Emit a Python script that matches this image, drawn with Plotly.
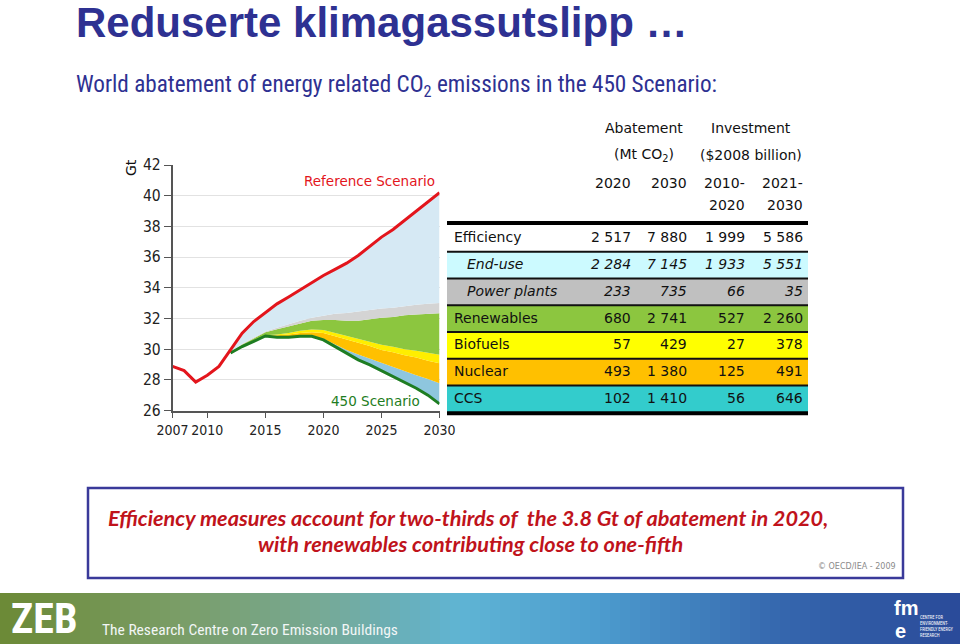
import plotly.graph_objects as go

# ---------------- data ----------------
years_ref = list(range(2007, 2031))
reference = [28.87, 28.6, 27.85, 28.3, 28.87, 29.95, 31.04, 31.8, 32.4, 32.95, 33.4, 33.86,
             34.3, 34.8, 35.2, 35.6, 36.1, 36.7, 37.3, 37.8, 38.4, 38.96, 39.55, 40.2]

years_450 = list(range(2012, 2031))
scen450 = [29.75, 30.17, 30.5, 30.86, 30.78, 30.78, 30.84, 30.84, 30.6, 30.15, 29.7, 29.3,
           28.97, 28.6, 28.2, 27.85, 27.45, 27.0, 26.43]
ccs_top = [29.75, 30.17, 30.5, 30.86, 30.8, 30.8, 30.86, 30.88, 30.68, 30.3, 29.95, 29.65,
           29.38, 29.1, 28.8, 28.55, 28.3, 28.05, 27.78]
nuclear_top = [29.75, 30.17, 30.5, 30.88, 30.9, 30.95, 31.05, 31.1, 31.05, 30.85, 30.6, 30.4,
               30.2, 29.95, 29.8, 29.6, 29.45, 29.25, 29.08]
biofuels_top = [29.75, 30.17, 30.5, 30.9, 30.95, 31.05, 31.2, 31.28, 31.25, 31.05, 30.85, 30.65,
                30.5, 30.28, 30.15, 30.0, 29.9, 29.75, 29.63]
renewables_top = [29.8, 30.3, 30.7, 31.1, 31.3, 31.5, 31.7, 31.85, 31.9, 31.9, 31.85, 31.85,
                  31.95, 32.05, 32.1, 32.2, 32.25, 32.3, 32.34]
powerplants_top = [29.8, 30.35, 30.75, 31.15, 31.4, 31.65, 31.85, 32.05, 32.2, 32.3, 32.35, 32.45,
                   32.55, 32.65, 32.7, 32.8, 32.9, 32.95, 33.0]
enduse_top = reference[5:]

x_tickvals = [2007, 2010, 2015, 2020, 2025, 2030]
y_tickvals = [26, 28, 30, 32, 34, 36, 38, 40, 42]

row_labels = ["Efficiency", "End-use", "Power plants", "Renewables", "Biofuels", "Nuclear", "CCS"]
abate_2020 = ["2 517", "2 284", "233", "680", "57", "493", "102"]
abate_2030 = ["7 880", "7 145", "735", "2 741", "429", "1 380", "1 410"]
inv_2010_2020 = ["1 999", "1 933", "66", "527", "27", "125", "56"]
inv_2021_2030 = ["5 586", "5 551", "35", "2 260", "378", "491", "646"]

# ---------------- styles ----------------
W, H = 960, 644
def px(x): return x / W
def py(y): return 1 - y / H

C_ENDUSE = "#d6e9f4"
C_POWER = "#d4d4d4"
C_RENEW = "#8cc63f"
C_BIO = "#ffee00"
C_NUC = "#ffc000"
C_CCS = "#8ec6de"
row_colors = ["#ffffff", "#ccfaff", "#c0c0c0", "#8cc63f", "#ffff00", "#ffc000", "#33cccc"]
row_italic = [False, True, True, False, False, False, False]
TFONT = "DejaVu Sans"
TICKFONT = "DejaVu Sans Condensed"
NAVY = "#2e3192"
COND = "Roboto Condensed"

fig = go.Figure()

# footer gradient (decorative)
N = 96
fig.add_trace(go.Heatmap(z=[list(range(N))], x=list(range(N)), y=[0],
                         colorscale=[[0, "#6c8a37"], [0.18, "#7a9d66"], [0.33, "#77a994"],
                                     [0.48, "#5fb4d4"], [0.62, "#4d9dcf"], [0.82, "#3566ad"],
                                     [1, "#2a4b9a"]],
                         showscale=False, hoverinfo="skip", xaxis="x2", yaxis="y2"))

# stacked wedges
layers = [(ccs_top, C_CCS), (nuclear_top, C_NUC), (biofuels_top, C_BIO),
          (renewables_top, C_RENEW), (powerplants_top, C_POWER), (enduse_top, C_ENDUSE)]
fig.add_trace(go.Scatter(x=years_450, y=scen450, mode="lines", line=dict(width=0),
                         showlegend=False, hoverinfo="skip"))
for vals, col in layers:
    fig.add_trace(go.Scatter(x=years_450, y=vals, mode="lines", line=dict(width=0),
                             fill="tonexty", fillcolor=col, showlegend=False, hoverinfo="skip"))

fig.add_trace(go.Scatter(x=years_450, y=scen450, mode="lines",
                         line=dict(color="#1e7d22", width=3), showlegend=False))
fig.add_trace(go.Scatter(x=years_ref, y=reference, mode="lines",
                         line=dict(color="#e3151c", width=3), showlegend=False))

shapes = []
annotations = []

def txt(x, y, t, size=14, color="#111", xanchor="left", yanchor="middle", family=TFONT,
        weight="normal", style="normal", **kw):
    annotations.append(dict(x=px(x), y=py(y), xref="paper", yref="paper", text=t,
                            showarrow=False, xanchor=xanchor, yanchor=yanchor,
                            font=dict(size=size, color=color, family=family,
                                      weight=weight, style=style), **kw))

# chart labels
annotations.append(dict(x=2029.8, y=40.95, xref="x", yref="y", text="Reference Scenario",
                        showarrow=False, xanchor="right", yanchor="middle",
                        font=dict(size=13.5, color="#e3151c", family=TFONT)))
annotations.append(dict(x=2024.5, y=26.62, xref="x", yref="y", text="450 Scenario",
                        showarrow=False, xanchor="center", yanchor="middle",
                        font=dict(size=13.5, color="#1e7d22", family=TFONT)))
txt(131, 168, "Gt", size=14, xanchor="center", textangle=-90)

# ---------------- table ----------------
t_left, t_right = 447, 808
row_top0 = 225
pitch = 26.75
for i, lab in enumerate(row_labels):
    top = row_top0 + i * pitch
    bot = top + pitch
    shapes.append(dict(type="rect", xref="paper", yref="paper", x0=px(t_left), x1=px(t_right),
                       y0=py(bot), y1=py(top), fillcolor=row_colors[i], line=dict(width=0),
                       layer="below"))
    cy = top + pitch / 2 - 1
    st = "italic" if row_italic[i] else "normal"
    lx = 465 if row_italic[i] else 452
    txt(lx, cy, lab, style=st)
    for xr, col in zip([633, 689, 747, 805], [abate_2020, abate_2030, inv_2010_2020, inv_2021_2030]):
        txt(xr, cy, col[i], xanchor="right", style=st)
# separators
for i in range(1, len(row_labels)):
    yy = row_top0 + i * pitch
    shapes.append(dict(type="line", xref="paper", yref="paper", x0=px(t_left), x1=px(t_right),
                       y0=py(yy), y1=py(yy), line=dict(color="#111", width=2)))
shapes.append(dict(type="line", xref="paper", yref="paper", x0=px(t_left), x1=px(t_right),
                   y0=py(223), y1=py(223), line=dict(color="#000", width=4)))
bot_y = row_top0 + len(row_labels) * pitch + 1
shapes.append(dict(type="line", xref="paper", yref="paper", x0=px(t_left), x1=px(t_right),
                   y0=py(bot_y), y1=py(bot_y), line=dict(color="#000", width=4)))

# headers
txt(644, 128, "Abatement", xanchor="center")
txt(644, 155, "(Mt CO<sub>2</sub>)", xanchor="center")
txt(751, 128, "Investment", xanchor="center")
txt(751, 155, "($2008 billion)", xanchor="center")
txt(633, 183, "2020", xanchor="right")
txt(689, 183, "2030", xanchor="right")
txt(747, 183, "2010-", xanchor="right")
txt(747, 205, "2020", xanchor="right")
txt(805, 183, "2021-", xanchor="right")
txt(805, 205, "2030", xanchor="right")

# ---------------- titles ----------------
txt(74, 23, "Reduserte klimagassutslipp …", size=42, color=NAVY, family="Liberation Sans",
    weight="bold")
txt(74, 85, "World abatement of energy related CO<sub>2</sub> emissions in the 450 Scenario:",
    size=23.2, color=NAVY, family=COND)

# ---------------- bottom box ----------------
shapes.append(dict(type="rect", xref="paper", yref="paper", x0=px(88), x1=px(903),
                   y0=py(578), y1=py(488), line=dict(color="#3a3a9a", width=2.5),
                   fillcolor="rgba(0,0,0,0)"))
txt(468, 518, "Efficiency measures account for two-thirds of  the 3.8 Gt of abatement in 2020,",
    size=21.7, color="#c0131b", family="Lato", weight="bold", style="italic", xanchor="center")
txt(470, 544, "with renewables contributing close to one-fifth",
    size=21.7, color="#c0131b", family="Lato", weight="bold", style="italic", xanchor="center")
txt(898, 566, "© OECD/IEA - 2009", size=8, color="#8a8a8a", xanchor="right")

# ---------------- footer ----------------
txt(9, 618, "ZEB", size=42, color="#ffffff", family=COND, weight="bold")
txt(100, 630, "The Research Centre on Zero Emission Buildings", size=15.5, color="#f2f6f6",
    family=COND)
txt(892, 608, "fm", size=20, color="#ffffff", family="Liberation Sans", weight="bold")
txt(893, 631, "e", size=20, color="#ffffff", family="Liberation Sans", weight="bold")
txt(918, 626, "CENTRE FOR<br>ENVIRONMENT-<br>FRIENDLY ENERGY<br>RESEARCH", size=4.5,
    color="#ffffff", family=COND, align="left")

fig.update_layout(
    width=W, height=H, autosize=False,
    margin=dict(l=0, r=0, t=0, b=0, autoexpand=False),
    paper_bgcolor="white", plot_bgcolor="rgba(0,0,0,0)",
    showlegend=False,
    shapes=shapes, annotations=annotations,
    xaxis=dict(domain=[px(172.5), px(439.5)], range=[2007, 2030], tickvals=x_tickvals,
               tickangle=0, automargin=False,
               showline=True, linecolor="#555", linewidth=1.5, ticks="outside", ticklen=6,
               tickcolor="#555", showgrid=False, zeroline=False,
               tickfont=dict(family=TICKFONT, size=14, color="#222"), fixedrange=True),
    yaxis=dict(domain=[py(410.5), py(165)], range=[26, 42], tickvals=y_tickvals,
               automargin=False,
               showline=True, linecolor="#555", linewidth=1.5, ticks="outside", ticklen=7,
               tickcolor="#555", showgrid=True, gridcolor="#e2e2e2", gridwidth=1,
               zeroline=False, tickfont=dict(family=TICKFONT, size=15.5, color="#222"),
               fixedrange=True),
    xaxis2=dict(domain=[0, 1], range=[-0.5, N - 0.5], visible=False, fixedrange=True,
                automargin=False),
    yaxis2=dict(domain=[0, py(593)], range=[-0.5, 0.5], visible=False, fixedrange=True,
                automargin=False),
)

fig.write_html("out.html")
